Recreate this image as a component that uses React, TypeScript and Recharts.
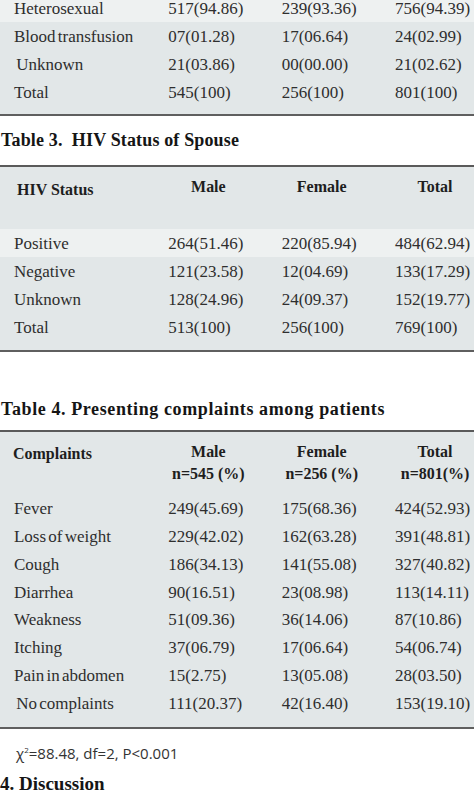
import { ScatterChart, Scatter, XAxis, YAxis, ReferenceArea } from 'recharts';

// table 2 (tail only, top is cut off in the picture)
const ROUTE_ROWS = ['Heterosexual', 'Blood transfusion', ' Unknown', 'Total'];
const ROUTE_MALE = ['517(94.86)', '07(01.28)', '21(03.86)', '545(100)'];
const ROUTE_FEMALE = ['239(93.36)', '17(06.64)', '00(00.00)', '256(100)'];
const ROUTE_TOTAL = ['756(94.39)', '24(02.99)', '21(02.62)', '801(100)'];

// table 3
const SPOUSE_HEADERS = ['HIV Status', 'Male', 'Female', 'Total'];
const SPOUSE_ROWS = ['Positive', 'Negative', 'Unknown', 'Total'];
const SPOUSE_MALE = ['264(51.46)', '121(23.58)', '128(24.96)', '513(100)'];
const SPOUSE_FEMALE = ['220(85.94)', '12(04.69)', '24(09.37)', '256(100)'];
const SPOUSE_TOTAL = ['484(62.94)', '133(17.29)', '152(19.77)', '769(100)'];

// table 4
const COMPLAINT_HEADERS = ['Complaints', 'Male', 'Female', 'Total'];
const COMPLAINT_SUBHEADERS = ['', 'n=545 (%)', 'n=256 (%)', 'n=801(%)'];
const COMPLAINT_ROWS = ['Fever', 'Loss of weight', 'Cough', 'Diarrhea', 'Weakness', 'Itching', 'Pain in abdomen', ' No complaints'];
const COMPLAINT_MALE = ['249(45.69)', '229(42.02)', '186(34.13)', '90(16.51)', '51(09.36)', '37(06.79)', '15(2.75)', '111(20.37)'];
const COMPLAINT_FEMALE = ['175(68.36)', '162(63.28)', '141(55.08)', '23(08.98)', '36(14.06)', '17(06.64)', '13(05.08)', '42(16.40)'];
const COMPLAINT_TOTAL = ['424(52.93)', '391(48.81)', '327(40.82)', '113(14.11)', '87(10.86)', '54(06.74)', '28(03.50)', '153(19.10)'];

const ROW_H = 27.9;
const W = 474;
const LABEL_W = 92;
const SERIF = '"Liberation Serif", "Times New Roman", serif';
const CELL = '#2e2e2e';
const BG = '#e2e7e8';
const BAND = '#eef1f1';

interface BlockProps {
  top: number;
  headerHeight: number;
  bottomPad: number;
  headers?: string[];
  subheaders?: string[];
  cornerX?: number;
  cornerY?: number;
  rows: string[];
  columns: string[][];
  bandRow?: number;
}

function TableBlock({ top, headerHeight, bottomPad, headers, subheaders, cornerX = 17, cornerY = 22, rows, columns, bandRow }: BlockProps) {
  const height = headerHeight + rows.length * ROW_H + bottomPad;
  const rowIdx = rows.map((_, i) => i);

  const headerTick = ({ x, index }: any) => {
    if (!headers) return null;
    if (index === 0) {
      return (
        <text x={cornerX} y={cornerY} dy="0.35em" fontSize={16} fontWeight={700} fill="#1e1e1e" fontFamily={SERIF}>
          {headers[0]}
        </text>
      );
    }
    return (
      <g>
        <text x={x + 3} y={19} dy="0.35em" textAnchor="middle" fontSize={16} fontWeight={700} fill="#1e1e1e" fontFamily={SERIF}>
          {headers[index]}
        </text>
        {subheaders && (
          <text x={x + 3} y={41} dy="0.35em" textAnchor="middle" fontSize={16} fontWeight={700} fill="#1e1e1e" fontFamily={SERIF}>
            {subheaders[index]}
          </text>
        )}
      </g>
    );
  };

  const rowTick = ({ y, payload }: any) => (
    <text x={14} y={y} dy="0.35em" fontSize={17} fill={CELL} fontFamily={SERIF} wordSpacing={-2} style={{ whiteSpace: 'pre' }}>
      {rows[payload.value]}
    </text>
  );

  const cellShape = (p: any) => (
    <text x={p.cx - 37} y={p.cy} dy="0.35em" fontSize={17} fill={CELL} fontFamily={SERIF}>
      {p.payload.text}
    </text>
  );

  return (
    <div
      style={{
        position: 'absolute', left: 0, top, width: W, height,
        background: BG,
        borderTop: headers ? '2px solid #5a5a5a' : 'none',
        borderBottom: '2px solid #5f5f5f',
      }}
    >
      <ScatterChart width={W} height={height} margin={{ top: 0, right: 0, bottom: bottomPad, left: 0 }}>
        <XAxis
          type="number" dataKey="col" domain={[0, 3.37]} ticks={[0, 1, 2, 3]} interval={0}
          orientation="top" height={headerHeight} hide={!headers}
          axisLine={false} tickLine={false} tick={headerTick}
        />
        <YAxis
          type="number" dataKey="row" domain={[-0.5, rows.length - 0.5]} ticks={rowIdx} interval={0}
          reversed width={LABEL_W} axisLine={false} tickLine={false} tick={rowTick}
        />
        {bandRow !== undefined && (
          <ReferenceArea
            x1={-0.82} x2={3.37} y1={bandRow - 0.5} y2={bandRow + 0.5}
            fill={BAND} fillOpacity={1} stroke="none" ifOverflow="visible"
          />
        )}
        {columns.map((col, c) => (
          <Scatter
            key={c}
            data={col.map((text, i) => ({ col: c + 1, row: i, text }))}
            shape={cellShape}
            isAnimationActive={false}
          />
        ))}
      </ScatterChart>
    </div>
  );
}

const titleStyle = {
  position: 'absolute' as const, left: 1, fontFamily: SERIF, fontWeight: 700, fontSize: 18,
  color: '#151515', whiteSpace: 'pre' as const, lineHeight: '20px',
};

export default function App() {
  return (
    <div style={{ position: 'absolute', left: 0, top: 0, width: W, height: 793, overflow: 'hidden', background: '#fff' }}>
      <TableBlock
        top={-6} headerHeight={0} bottomPad={8}
        rows={ROUTE_ROWS} columns={[ROUTE_MALE, ROUTE_FEMALE, ROUTE_TOTAL]} bandRow={0}
      />
      <div style={{ ...titleStyle, top: 130, letterSpacing: 0.15 }}>{'Table 3.  HIV Status of Spouse'}</div>
      <TableBlock
        top={165} headerHeight={62} bottomPad={9}
        headers={SPOUSE_HEADERS}
        rows={SPOUSE_ROWS} columns={[SPOUSE_MALE, SPOUSE_FEMALE, SPOUSE_TOTAL]} bandRow={0}
      />
      <div style={{ ...titleStyle, top: 399, letterSpacing: 0.6 }}>Table 4. Presenting complaints among patients</div>
      <TableBlock
        top={430} headerHeight={62} bottomPad={10}
        headers={COMPLAINT_HEADERS} subheaders={COMPLAINT_SUBHEADERS} cornerX={13} cornerY={21}
        rows={COMPLAINT_ROWS} columns={[COMPLAINT_MALE, COMPLAINT_FEMALE, COMPLAINT_TOTAL]}
      />
      <div style={{ position: 'absolute', left: 16, top: 739, fontFamily: '"Open Sans", sans-serif', fontSize: 15, color: '#333', lineHeight: '22px' }}>
        χ<span style={{ fontSize: 8, verticalAlign: 'super' }}>2</span>=88.48, df=2, P&lt;0.001
      </div>
      <div style={{ ...titleStyle, left: 0, top: 774, fontSize: 19 }}>4. Discussion</div>
    </div>
  );
}
